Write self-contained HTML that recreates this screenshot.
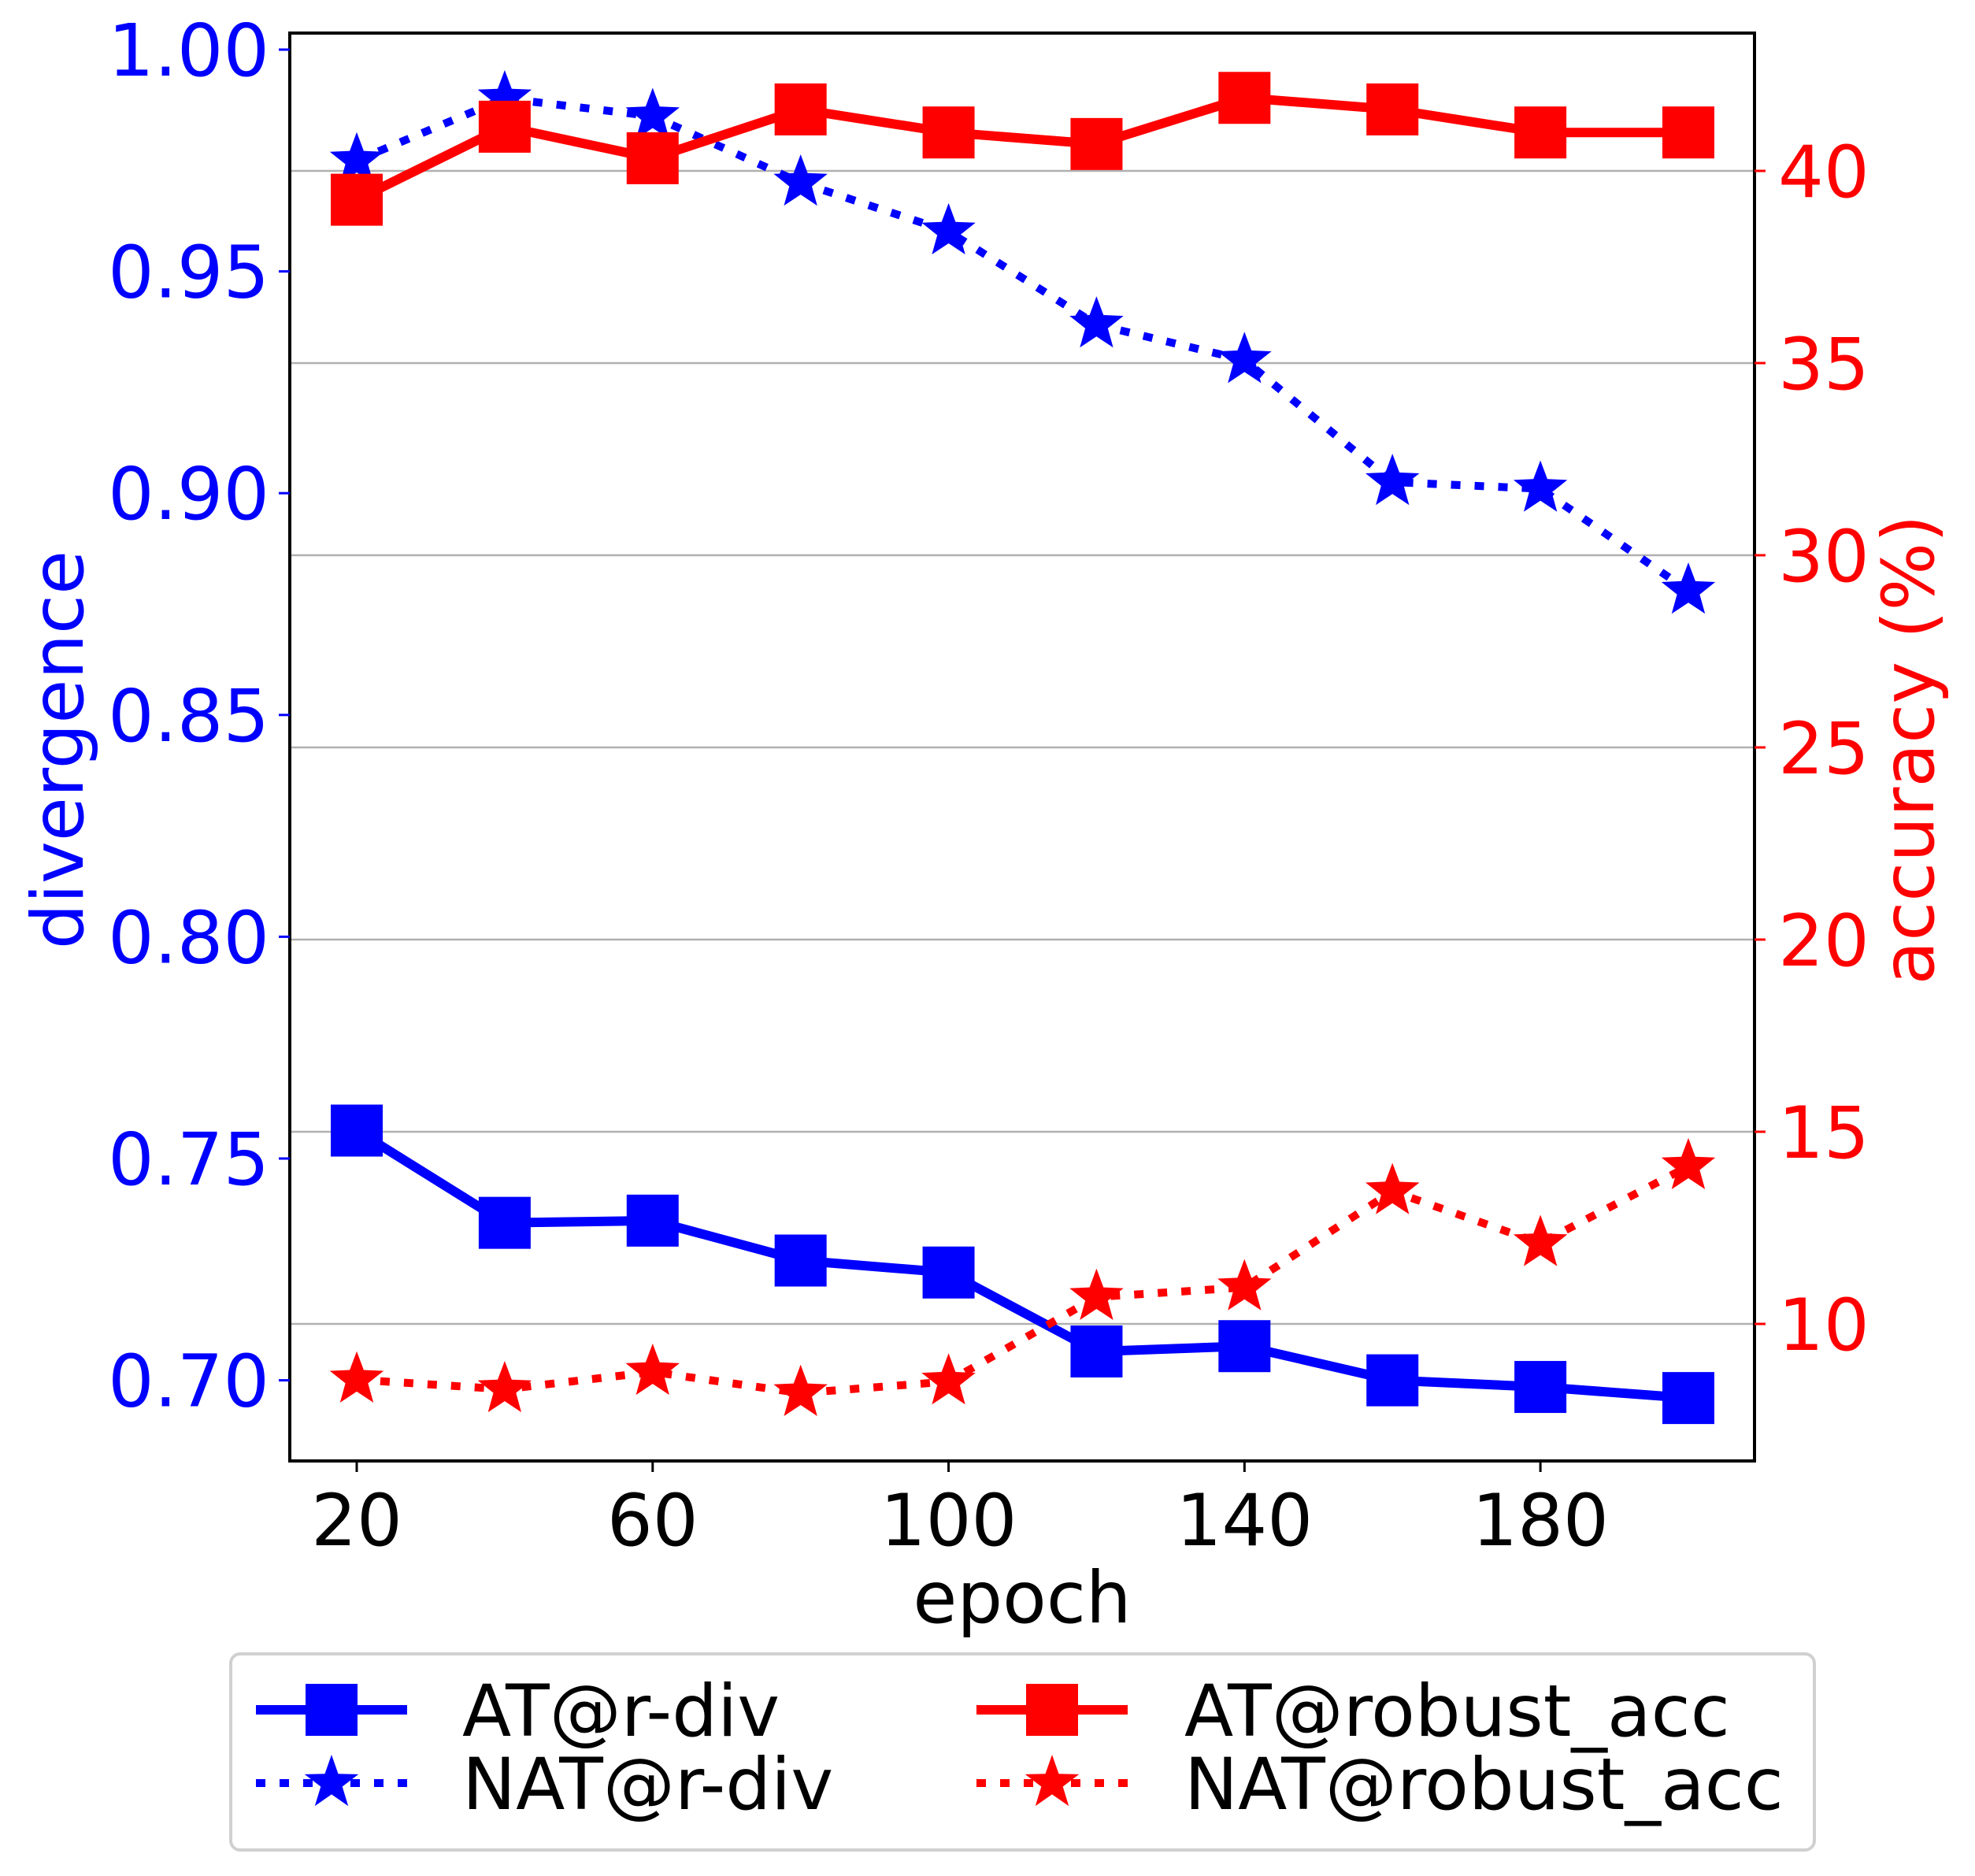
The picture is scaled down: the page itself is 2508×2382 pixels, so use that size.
<!DOCTYPE html>
<html><head><meta charset="utf-8"><style>
html,body{margin:0;padding:0;background:#fff}
svg{display:block;font-family:"DejaVu Sans","Liberation Sans",sans-serif}
</style></head><body>
<svg id="chart" width="2508" height="2382" viewBox="0 0 2508 2382" xmlns="http://www.w3.org/2000/svg"></svg>
<script>
const epochs=[20,40,60,80,100,120,140,160,180,200];
const atDiv=[0.7563,0.7355,0.736,0.727,0.7243,0.7065,0.7077,0.700,0.6985,0.696];
const natDiv=[0.975,0.989,0.985,0.970,0.959,0.938,0.930,0.9025,0.901,0.878];
const atAcc=[39.25,41.15,40.33,41.6,41.0,40.7,41.9,41.6,41.0,41.0];
const natAcc=[8.55,8.3,8.75,8.2,8.5,10.7,10.95,13.45,12.1,14.1];
const xTicks=[20,60,100,140,180];
const leftTicks=[0.70,0.75,0.80,0.85,0.90,0.95,1.00];
const rightTicks=[10,15,20,25,30,35,40];

const L=368,R=2228,T=42,B=1855;
const xs=e=>453+(e-20)*(2144-453)/180;
const yl=v=>63+(1.0-v)*5632;
const yr=v=>217+(40-v)*48.8;
const svg=document.getElementById('chart');
const NS='http://www.w3.org/2000/svg';
function mk(tag,attrs,parent){const el=document.createElementNS(NS,tag);for(const k in attrs)el.setAttribute(k,attrs[k]);(parent||svg).appendChild(el);return el;}
function star(cx,cy,r){let p=[];for(let i=0;i<10;i++){const a=-Math.PI/2+i*Math.PI/5;const rr=i%2?r*0.42:r;p.push((cx+rr*Math.cos(a)).toFixed(1)+','+(cy+rr*Math.sin(a)).toFixed(1));}return p.join(' ');}

rightTicks.forEach(t=>{
 const g=mk('line',{x1:L,x2:R,y1:yr(t),y2:yr(t),stroke:'#b0b0b0','stroke-width':2.5});
 
 
});
function series(vals,yf,color,dash,marker,name){
 const g=mk('g',{});
 
 
 const pts=epochs.map((e,i)=>xs(e)+','+yf(vals[i])).join(' ');
 const a={points:pts,fill:'none',stroke:color,'stroke-width':dash?10:12,'stroke-linejoin':'round'};
 if(dash)a['stroke-dasharray']='12,18';
 mk('polyline',a,g);
 epochs.forEach((e,i)=>{
  let m;
  if(marker==='s') m=mk('rect',{x:xs(e)-33,y:yf(vals[i])-33,width:66,height:66,fill:color},g);
  else m=mk('polygon',{points:star(xs(e),yf(vals[i]),36),fill:color},g);
  
  
 });
}
series(atDiv,yl,'#0000ff',false,'s','at-r-div-series');
series(natDiv,yl,'#0000ff',true,'*','nat-r-div-series');
series(atAcc,yr,'#ff0000',false,'s','at-robust-acc-series');
series(natAcc,yr,'#ff0000',true,'*','nat-robust-acc-series');

const frame=mk('rect',{x:L,y:T,width:R-L,height:B-T,fill:'none',stroke:'#000','stroke-width':4});



xTicks.forEach(t=>{
 mk('line',{x1:xs(t),x2:xs(t),y1:B,y2:B+14,stroke:'#000','stroke-width':3});
 const tx=mk('text',{x:xs(t),y:1962,'font-size':91,'text-anchor':'middle',fill:'#000'});
 tx.textContent=t;
 
 
});
leftTicks.forEach(t=>{
 mk('line',{x1:L-14,x2:L,y1:yl(t),y2:yl(t),stroke:'#0000ff','stroke-width':3});
 const tx=mk('text',{x:L-26,y:yl(t)+33,'font-size':92,'text-anchor':'end',fill:'#0000ff'});
 tx.textContent=t.toFixed(2);
 
 
});
rightTicks.forEach(t=>{
 mk('line',{x1:R,x2:R+14,y1:yr(t),y2:yr(t),stroke:'#ff0000','stroke-width':3});
 const tx=mk('text',{x:R+30,y:yr(t)+33,'font-size':91,fill:'#ff0000'});
 tx.textContent=t;
 
 
});
</script>
<svg style="position:absolute;left:0;top:0" width="2508" height="2382">
 <text x="1298" y="2060" font-size="91" text-anchor="middle" fill="#000" font-family="DejaVu Sans, Liberation Sans, sans-serif">epoch</text>
 <text transform="translate(105,952) rotate(-90)" font-size="91" text-anchor="middle" fill="#0000ff" font-family="DejaVu Sans, Liberation Sans, sans-serif">divergence</text>
 <text transform="translate(2455,952) rotate(-90)" font-size="91" text-anchor="middle" fill="#ff0000" font-family="DejaVu Sans, Liberation Sans, sans-serif">accuracy (%)</text>
 <g font-family="DejaVu Sans, Liberation Sans, sans-serif" font-size="91">
  <rect x="293" y="2100" width="2011" height="249" rx="12" fill="#fff" stroke="#d0d0d0" stroke-width="4"/>
  <g>
   <line x1="325" x2="517" y1="2171" y2="2171" stroke="#0000ff" stroke-width="12"/>
   <rect x="388" y="2138" width="66" height="66" fill="#0000ff"/>
   <text x="587" y="2204" fill="#000">AT@r-div</text>
  </g>
  <g>
   <line x1="325" x2="517" y1="2264" y2="2264" stroke="#0000ff" stroke-width="10" stroke-dasharray="12,18"/>
   <polygon points="421,2228 429.5,2252.3 455.2,2252.9 434.7,2268.5 442.2,2293.1 421,2278.4 399.8,2293.1 407.3,2268.5 386.8,2252.9 412.5,2252.3" fill="#0000ff"/>
   <text x="587" y="2297" fill="#000">NAT@r-div</text>
  </g>
  <g>
   <line x1="1240" x2="1432" y1="2171" y2="2171" stroke="#ff0000" stroke-width="12"/>
   <rect x="1303" y="2138" width="66" height="66" fill="#ff0000"/>
   <text x="1504" y="2204" fill="#000">AT@robust_acc</text>
  </g>
  <g>
   <line x1="1240" x2="1432" y1="2264" y2="2264" stroke="#ff0000" stroke-width="10" stroke-dasharray="12,18"/>
   <polygon points="1336,2228 1344.5,2252.3 1370.2,2252.9 1349.7,2268.5 1357.2,2293.1 1336,2278.4 1314.8,2293.1 1322.3,2268.5 1301.8,2252.9 1327.5,2252.3" fill="#ff0000"/>
   <text x="1504" y="2297" fill="#000">NAT@robust_acc</text>
  </g>
 </g>
</svg>
</body></html>
